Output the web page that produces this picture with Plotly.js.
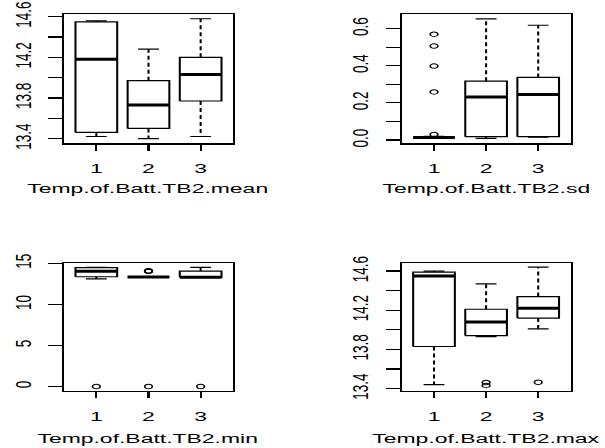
<!DOCTYPE html>
<html>
<head>
<meta charset="utf-8">
<script src="https://cdn.plot.ly/plotly-3.0.1.min.js"></script>
<style>
  html, body { margin: 0; padding: 0; background: #fff; overflow: hidden; }
  #wrap { width: 605px; height: 448px; overflow: hidden; }
  #chart { width: 356px; height: 448px; transform: scaleX(1.6994); transform-origin: 0 0; }
</style>
</head>
<body>
<div id="wrap"><div id="chart"></div></div>
<script>
// ---- data ----
const groups = [1, 2, 3];
const groupLabels = ["1", "2", "3"];

// Temp.of.Batt.TB2.mean
const meanLower  = [13.42, 13.40, 13.42];
const meanQ1     = [13.46, 13.50, 13.77];
const meanMedian = [14.18, 13.73, 14.03];
const meanQ3     = [14.55, 13.97, 14.20];
const meanUpper  = [14.56, 14.28, 14.58];
const meanOutliers = [[], [], []];

// Temp.of.Batt.TB2.sd
const sdLower  = [0.009, 0.009, 0.015];
const sdQ1     = [0.012, 0.018, 0.018];
const sdMedian = [0.014, 0.232, 0.245];
const sdQ3     = [0.016, 0.317, 0.337];
const sdUpper  = [0.020, 0.652, 0.618];
const sdOutliers = [[0.030, 0.259, 0.398, 0.506, 0.570], [], []];

// Temp.of.Batt.TB2.min
const minLower  = [13.10, 13.30, 13.28];
const minQ1     = [13.37, 13.33, 13.30];
const minMedian = [14.03, 13.35, 13.32];
const minQ3     = [14.48, 13.37, 14.06];
const minUpper  = [14.52, 13.40, 14.51];
const minOutliers = [[0], [14.02, 14.06, 14.10, 0], [0]];

// Temp.of.Batt.TB2.max
const maxLower  = [13.44, 13.93, 14.01];
const maxQ1     = [13.83, 13.94, 14.12];
const maxMedian = [14.55, 14.08, 14.22];
const maxQ3     = [14.59, 14.21, 14.34];
const maxUpper  = [14.60, 14.47, 14.64];
const maxOutliers = [[], [13.433, 13.463], [13.465]];

const titles = ["Temp.of.Batt.TB2.mean", "Temp.of.Batt.TB2.sd",
                "Temp.of.Batt.TB2.min", "Temp.of.Batt.TB2.max"];

// ---- styling ----
const LW = 1.2;
const HALF_BOX = 0.4;
const HALF_STAPLE = 0.2;
const FONT = "Liberation Sans, Arial, sans-serif";

function panelTraces(lower, q1, med, q3, upper, outl, xa, ya) {
  const bx = [], by = [], mx = [], my = [], wx = [], wy = [], sx = [], sy = [], ox = [], oy = [];
  groups.forEach((c, i) => {
    wx.push(c, c, null, c, c, null);
    wy.push(q3[i], upper[i], null, q1[i], lower[i], null);
    sx.push(c - HALF_STAPLE, c + HALF_STAPLE, null, c - HALF_STAPLE, c + HALF_STAPLE, null);
    sy.push(upper[i], upper[i], null, lower[i], lower[i], null);
    bx.push(c - HALF_BOX, c + HALF_BOX, c + HALF_BOX, c - HALF_BOX, c - HALF_BOX, null);
    by.push(q1[i], q1[i], q3[i], q3[i], q1[i], null);
    mx.push(c - HALF_BOX, c + HALF_BOX, null);
    my.push(med[i], med[i], null);
    outl[i].forEach(v => { ox.push(c); oy.push(v); });
  });
  const base = { xaxis: xa, yaxis: ya, type: "scatter", hoverinfo: "skip", showlegend: false };
  return [
    Object.assign({}, base, { x: wx, y: wy, mode: "lines", line: { color: "#000", width: LW, dash: "4px,3px" } }),
    Object.assign({}, base, { x: sx, y: sy, mode: "lines", line: { color: "#000", width: LW } }),
    Object.assign({}, base, { x: bx, y: by, mode: "lines", line: { color: "#000", width: LW } }),
    Object.assign({}, base, { x: mx, y: my, mode: "lines", line: { color: "#000", width: 3 } }),
    Object.assign({}, base, { x: ox, y: oy, mode: "markers",
      marker: { symbol: "circle-open", size: 4.5, color: "#000", line: { width: 1, color: "#000" } } })
  ];
}

const data = [].concat(
  panelTraces(meanLower, meanQ1, meanMedian, meanQ3, meanUpper, meanOutliers, "x", "y"),
  panelTraces(sdLower, sdQ1, sdMedian, sdQ3, sdUpper, sdOutliers, "x2", "y2"),
  panelTraces(minLower, minQ1, minMedian, minQ3, minUpper, minOutliers, "x3", "y3"),
  panelTraces(maxLower, maxQ1, maxMedian, maxQ3, maxUpper, maxOutliers, "x4", "y4")
);

const xL = [0.1058, 0.3851], xR = [0.664, 0.943];
const yT = [0.6801, 0.96875], yB = [0.1266, 0.4129];

function xAxis(dom, anchor) {
  return {
    domain: dom, anchor: anchor, range: [0.38, 3.62],
    tickvals: groups, ticktext: groupLabels,
    ticks: "outside", ticklen: 6, tickwidth: LW, tickcolor: "#000",
    showline: true, mirror: true, linecolor: "#000", linewidth: LW,
    showgrid: false, zeroline: false, ticklabelstandoff: 6,
    tickfont: { family: FONT, size: 13.5, color: "#000" }
  };
}
function yAxis(dom, anchor, range, vals, text) {
  return {
    domain: dom, anchor: anchor, range: range,
    tickvals: vals, ticktext: text, tickangle: -90,
    ticks: "outside", ticklen: 8, tickwidth: LW, tickcolor: "#000",
    showline: true, mirror: true, linecolor: "#000", linewidth: LW,
    showgrid: false, zeroline: false, ticklabelstandoff: 5,
    tickfont: { family: FONT, size: 13.5, color: "#000" }
  };
}

const tempTicks = [13.4, 13.6, 13.8, 14.0, 14.2, 14.4, 14.6];
const tempText  = ["13.4", "", "13.8", "", "14.2", "", "14.6"];
const sdTicks = [0, 0.1, 0.2, 0.3, 0.4, 0.5, 0.6];
const sdText  = ["0.0", "", "0.2", "", "0.4", "", "0.6"];
const minTicks = [0, 5, 10, 15];
const minText  = ["0", "5", "10", "15"];

function titleAnn(text, x, y) {
  return { text: text, xref: "paper", yref: "paper", x: x, y: y,
           xanchor: "center", yanchor: "middle", showarrow: false,
           font: { family: FONT, size: 13.5, color: "#000" } };
}

const layout = {
  width: 356, height: 448,
  margin: { l: 0, r: 0, t: 0, b: 0 },
  paper_bgcolor: "#fff", plot_bgcolor: "#fff",
  showlegend: false,
  xaxis: xAxis(xL, "y"),
  yaxis: yAxis(yT, "x", [13.353, 14.627], tempTicks, tempText),
  xaxis2: xAxis(xR, "y2"),
  yaxis2: yAxis(yT, "x2", [-0.0177, 0.6787], sdTicks, sdText),
  xaxis3: xAxis(xL, "y3"),
  yaxis3: yAxis(yB, "x3", [-0.58, 15.04], minTicks, minText),
  xaxis4: xAxis(xR, "y4"),
  yaxis4: yAxis(yB, "x4", [13.373, 14.682], tempTicks, tempText),
  annotations: [
    titleAnn(titles[0], (xL[0] + xL[1]) / 2, 1 - 188.5 / 448),
    titleAnn(titles[1], (xR[0] + xR[1]) / 2, 1 - 188.5 / 448),
    titleAnn(titles[2], (xL[0] + xL[1]) / 2, 1 - 438.5 / 448),
    titleAnn(titles[3], (xR[0] + xR[1]) / 2, 1 - 438.5 / 448)
  ]
};

Plotly.newPlot("chart", data, layout, { displayModeBar: false, staticPlot: true });
</script>
</body>
</html>
